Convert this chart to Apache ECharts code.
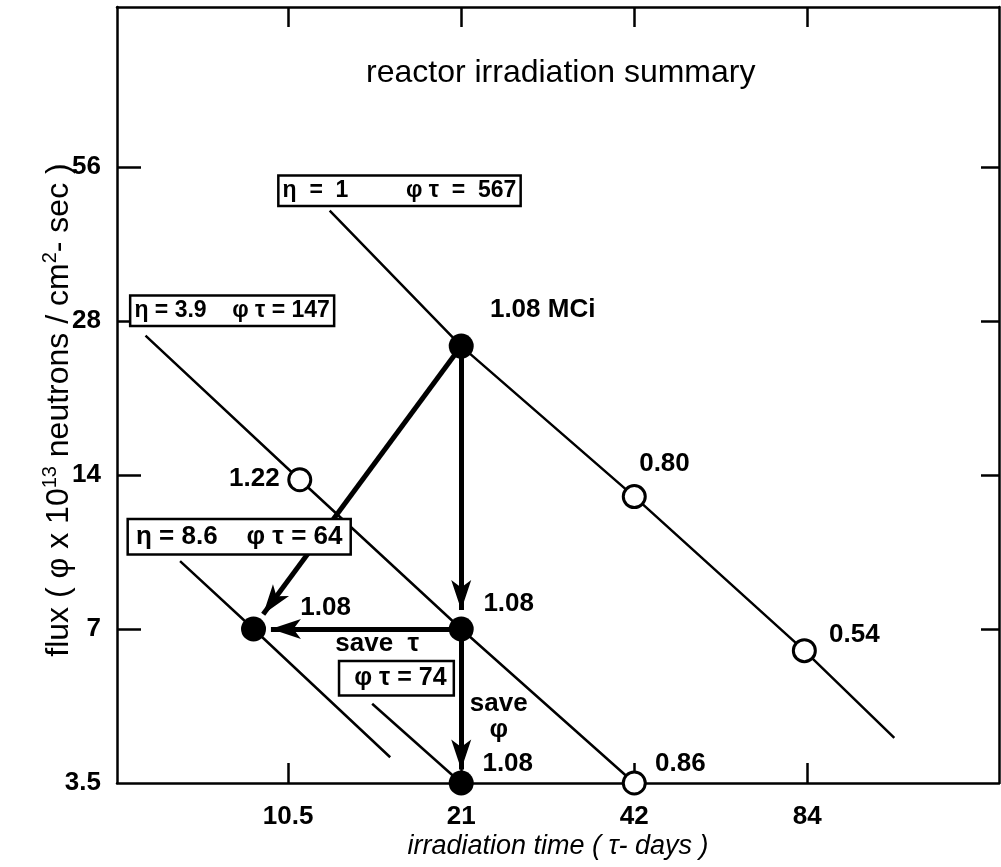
<!DOCTYPE html>
<html>
<head>
<meta charset="utf-8">
<title>reactor irradiation summary</title>
<script src="https://cdn.jsdelivr.net/npm/echarts@6/dist/echarts.min.js"></script>
<style>
  html, body { margin: 0; padding: 0; background: #fff; }
  #chart { width: 1001px; height: 867px; }
</style>
</head>
<body>
<div id="chart"></div>
<script>
// tick values (log axes, doubling steps)
const tauTicks = [10.5, 21, 42, 84];
const phiTicks = [3.5, 7, 14, 28, 56];

// constant-fluence lines  [tau (days), phi (x 1e13)]
const lineA = [[12.4, 46], [21, 25], [42, 12.7], [83, 6.35], [119, 4.29]];   // phi*tau = 567
const lineB = [[5.93, 26.2], [11.0, 13.7], [21, 7], [42, 3.5]];              // phi*tau = 147
const lineC = [[6.81, 9.5], [9.14, 7], [15.8, 3.93]];                        // phi*tau = 64
const lineD = [[14.7, 5.0], [21, 3.5]];                                      // phi*tau = 74

// markers
const filledPts = [[21, 25], [9.14, 7], [21, 7], [21, 3.5]];
const openPts = [[11.0, 13.7], [42, 12.7], [83, 6.35], [42, 3.5]];

// arrows (start -> arrow tip)
const arrowFrom = [[21, 25], [21, 25], [21, 7], [21, 7]];
const arrowTo = [[9.5, 7.48], [21, 7.62], [9.8, 7], [21, 3.72]];

// boxed notes
const boxAt = [[16.4, 50.3], [8.39, 29.3], [8.63, 10.6], [16.2, 5.61]];
const boxText = [
  'η  =  1         φ τ  =  567',
  'η = 3.9    φ τ = 147',
  'η = 8.6    φ τ = 64',
  'φ τ = 74'
];

// plain notes
const noteAt = [[29.1, 29.4], [9.17, 13.75], [12.2, 7.69], [25.4, 7.83], [15.0, 6.55],
  [24.4, 4.71], [25.3, 3.81], [50.5, 3.81], [47.4, 14.7], [101.4, 6.81]];
const noteText = ['1.08 MCi', '1.22', '1.08', '1.08', 'save  τ', 'save\nφ', '1.08', '0.86', '0.80', '0.54'];

const font = "'Liberation Sans', Arial, sans-serif";
const boxPad = [[3, 3, 2, 3], [3, 3, 2, 3], [4, 7, 3, 7], [4, 6, 3, 14]];
const boxFont = [23, 23, 26, 25];

const chart = echarts.init(document.getElementById('chart'));

const fmt = v => String(+(+v).toFixed(2));

const frameAxis = (extra) => Object.assign({
  type: 'log',
  logBase: 2,
  axisLine: { show: true, onZero: false, lineStyle: { color: '#000', width: 2.5 } },
  splitLine: { show: false },
  minorTick: { show: false }
}, extra);

const lineSeries = (data) => ({
  type: 'line',
  data: data,
  showSymbol: false,
  symbol: 'none',
  lineStyle: { color: '#000', width: 2.5 },
  z: 2,
  silent: true
});

chart.setOption({
  animation: false,
  backgroundColor: '#fff',
  title: {
    text: 'reactor irradiation summary',
    left: 361,
    top: 52,
    textStyle: { fontFamily: font, fontSize: 32, fontWeight: 'normal', color: '#000' }
  },
  grid: { left: 117, right: 2, top: 7, bottom: 84, containLabel: false, outerBoundsMode: 'none' },
  xAxis: [
    frameAxis({
      position: 'bottom', min: 5.29, max: 181,
      axisTick: { show: true, inside: true, length: 20, customValues: tauTicks, lineStyle: { color: '#000', width: 2.5 } },
      axisLabel: {
        customValues: tauTicks, margin: 21, formatter: fmt,
        fontFamily: font, fontSize: 26, fontWeight: 'bold', color: '#000'
      },
      name: 'irradiation time ( τ- days )',
      nameLocation: 'middle',
      nameGap: 50,
      nameMoveOverlap: false,
      nameTextStyle: { fontFamily: font, fontSize: 27, fontStyle: 'italic', color: '#000' }
    }),
    frameAxis({
      position: 'top', min: 5.29, max: 181,
      axisTick: { show: true, inside: true, length: 20, customValues: tauTicks, lineStyle: { color: '#000', width: 2.5 } },
      axisLabel: { show: false }
    })
  ],
  yAxis: [
    frameAxis({
      position: 'left', min: 3.5, max: 115,
      axisTick: { show: true, inside: true, length: 24, customValues: phiTicks.slice(1), lineStyle: { color: '#000', width: 2.5 } },
      axisLabel: {
        customValues: phiTicks, margin: 16, formatter: fmt,
        fontFamily: font, fontSize: 26, fontWeight: 'bold', color: '#000'
      },
      name: 'flux ( φ x 10{sup|13} neutrons / cm{sup|2}- sec )',
      nameLocation: 'middle',
      nameGap: 39,
      nameRotate: 90,
      nameMoveOverlap: false,
      nameTextStyle: {
        fontFamily: font, fontSize: 32, color: '#000', lineHeight: 38,
        padding: [0, 30, 0, 0],
        rich: {
          sup: { fontFamily: font, fontSize: 20, lineHeight: 20, verticalAlign: 'top', color: '#000' }
        }
      }
    }),
    frameAxis({
      position: 'right', min: 3.5, max: 115,
      axisTick: { show: true, inside: true, length: 18, customValues: phiTicks.slice(1), lineStyle: { color: '#000', width: 2.5 } },
      axisLabel: { show: false }
    })
  ],
  series: [
    lineSeries(lineA),
    lineSeries(lineB),
    lineSeries(lineC),
    lineSeries(lineD),
    {
      type: 'lines',
      coordinateSystem: 'cartesian2d',
      data: arrowFrom.map((p, i) => ({ coords: [p, arrowTo[i]] })),
      symbol: ['none', 'arrow'],
      symbolSize: [0, [15, 30]],
      lineStyle: { color: '#000', width: 5, opacity: 1 },
      z: 3,
      silent: true
    },
    {
      type: 'scatter',
      data: filledPts,
      symbol: 'circle',
      symbolSize: 25,
      itemStyle: { color: '#000', opacity: 1 },
      z: 5,
      silent: true
    },
    {
      type: 'scatter',
      data: openPts,
      symbol: 'circle',
      symbolSize: 22,
      itemStyle: { color: '#fff', borderColor: '#000', borderWidth: 3, opacity: 1 },
      z: 5,
      silent: true
    },
    {
      type: 'scatter',
      data: boxAt.map((p, i) => ({
        value: p,
        name: boxText[i],
        label: {
          padding: boxPad[i],
          fontSize: boxFont[i]
        }
      })),
      symbol: 'circle',
      symbolSize: 1,
      itemStyle: { color: 'rgba(0,0,0,0)', opacity: 1 },
      label: {
        show: true,
        position: 'inside',
        formatter: p => p.name,
        fontFamily: font,
        fontWeight: 'bold',
        color: '#000',
        backgroundColor: '#fff',
        borderColor: '#000',
        borderWidth: 2.5
      },
      z: 8,
      silent: true
    },
    {
      type: 'scatter',
      data: noteAt.map((p, i) => ({ value: p, name: noteText[i] })),
      symbol: 'circle',
      symbolSize: 1,
      itemStyle: { color: 'rgba(0,0,0,0)', opacity: 1 },
      label: {
        show: true,
        position: 'inside',
        formatter: p => p.name,
        fontFamily: font,
        fontSize: 26,
        fontWeight: 'bold',
        lineHeight: 26,
        color: '#000'
      },
      z: 8,
      silent: true
    }
  ]
});
</script>
</body>
</html>
